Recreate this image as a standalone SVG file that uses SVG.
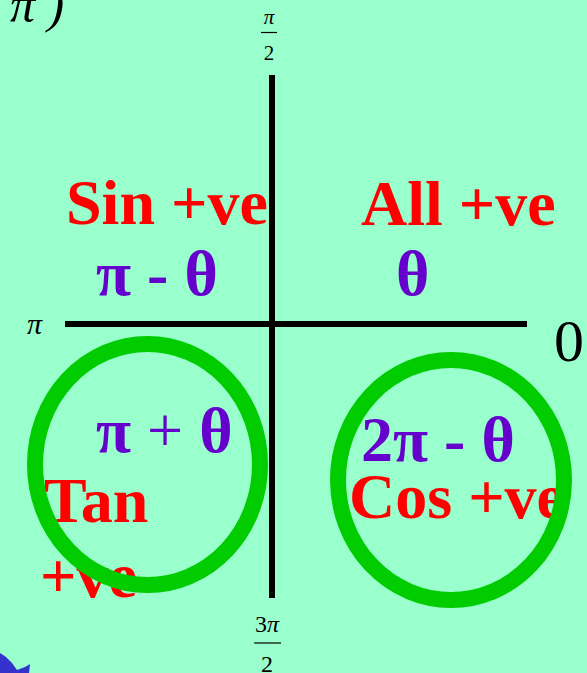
<svg xmlns="http://www.w3.org/2000/svg" width="587" height="673" viewBox="0 0 587 673">
<style>
.lbl{font-family:"Liberation Serif","Times New Roman",serif;font-weight:bold;font-size:64px;fill:#FF0000}
.ang{font-family:"Liberation Serif","Times New Roman",serif;font-weight:bold;font-size:64px;fill:#6600CC}
.mth{font-family:"Liberation Serif","Times New Roman",serif;font-style:italic;fill:#000}
.num{font-family:"Liberation Serif","Times New Roman",serif;fill:#000}
.ring{fill:none;stroke:#00CC00;stroke-width:16}
.axis{stroke:#000;stroke-width:6}
</style>
<rect width="587" height="673" fill="#99FFCC"/>
<text class="mth" x="10" y="22" font-size="50">π )</text>
<polygon points="0,653 6,657 12,663 17,670 25,667 30,664 29,673 0,673" fill="#3333CC"/>
<g id="connectors">
<line class="axis" x1="272" y1="75" x2="272" y2="598"/>
<line class="axis" x1="65" y1="324" x2="527" y2="324"/>
</g>
<g id="label-top">
<text class="mth" x="269" y="24" font-size="21" text-anchor="middle">π</text>
<line x1="261" y1="32.5" x2="277" y2="32.5" stroke="#000" stroke-width="1.2"/>
<text class="num" x="269" y="60" font-size="21" text-anchor="middle">2</text>
</g>
<g id="label-bottom">
<text class="num" x="267" y="632" font-size="24" text-anchor="middle">3<tspan font-style="italic">π</tspan></text>
<line x1="254" y1="643" x2="281" y2="643" stroke="#000" stroke-width="1.2"/>
<text class="num" x="267" y="672" font-size="24" text-anchor="middle">2</text>
</g>
<g id="label-left"><text class="mth" x="27" y="334" font-size="30">π</text></g>
<g id="label-right"><text class="num" x="554" y="361" font-size="60">0</text></g>
<g id="q2">
<text class="lbl" x="66" y="224">Sin +ve</text>
<text class="ang" x="96" y="295">π - θ</text>
</g>
<g id="q1">
<text class="lbl" x="361" y="225">All +ve</text>
<text class="ang" x="396" y="295">θ</text>
</g>
<g id="q3">
<text class="ang" x="96" y="452">π <tspan font-weight="normal">+</tspan> θ</text>
<text class="lbl" x="44" y="522" font-size="61">Tan</text>
<text class="lbl" x="40" y="597">+ve</text>
<ellipse class="ring" cx="147.5" cy="464.5" rx="112.5" ry="120.5"/>
</g>
<g id="q4">
<text class="ang" x="361" y="461">2π - θ</text>
<text class="lbl" x="349" y="518">Cos +ve</text>
<ellipse class="ring" cx="451" cy="480" rx="113" ry="120"/>
</g>
</svg>
